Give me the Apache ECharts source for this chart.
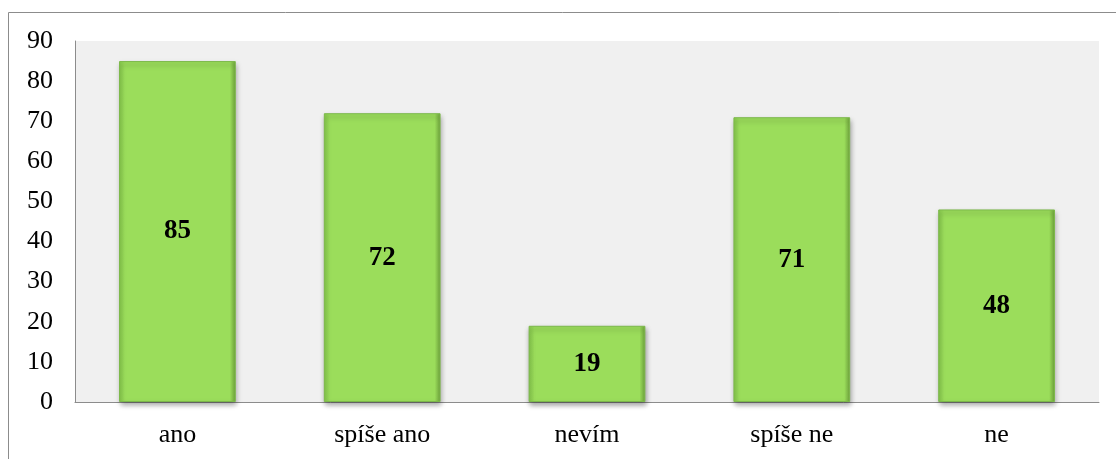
<!DOCTYPE html>
<html>
<head>
<meta charset="utf-8">
<script src="https://cdn.jsdelivr.net/npm/echarts@6/dist/echarts.min.js"></script>
<style>
  html, body { margin: 0; padding: 0; background: #fff; }
  #chart { width: 1116px; height: 459px; }
</style>
</head>
<body>
<div id="chart"></div>
<script>
// categories and answer counts
const categories = ['ano', 'spíše ano', 'nevím', 'spíše ne', 'ne'];
const counts = [85, 72, 19, 71, 48];
const yMin = 0;
const yMax = 90;
const yStep = 10;

const chart = echarts.init(document.getElementById('chart'));
window.addEventListener('resize', () => { chart.resize(); });

chart.setOption({
  animation: false,
  textStyle: { fontFamily: '"Liberation Serif", "Times New Roman", serif' },
  graphic: [
    {
      // outer frame (runs off the right and bottom edges)
      type: 'rect',
      shape: { x: 8.5, y: 12.5, width: 1130, height: 470 },
      style: { fill: 'none', stroke: '#8c8c8c', lineWidth: 1 },
      silent: true,
      z: -10
    }
  ],
  grid: {
    left: 75,
    right: 17,
    top: 41,
    bottom: 57,
    show: true,
    backgroundColor: '#f0f0f0',
    borderWidth: 0
  },
  xAxis: {
    type: 'category',
    data: categories,
    axisLine: { show: true, lineStyle: { color: '#8c8c8c', width: 1 } },
    axisTick: { show: false },
    splitLine: { show: false },
    axisLabel: {
      color: '#000',
      fontSize: 26,
      margin: 20
    }
  },
  yAxis: {
    type: 'value',
    min: yMin,
    max: yMax,
    interval: yStep,
    axisLine: { show: true, lineStyle: { color: '#8c8c8c', width: 1 } },
    axisTick: { show: false },
    splitLine: { show: false },
    axisLabel: {
      color: '#000',
      fontSize: 26,
      margin: 22
    }
  },
  series: [
    {
      type: 'bar',
      data: counts,
      barWidth: '57%',
      itemStyle: {
        color: {
          type: 'linear', x: 0, y: 0, x2: 1, y2: 0,
          colorStops: [
            { offset: 0, color: '#86c84c' },
            { offset: 0.05, color: '#9bdd5b' },
            { offset: 0.95, color: '#9bdd5b' },
            { offset: 1, color: '#6fa43c' }
          ]
        },
        borderColor: '#7cb84a',
        borderWidth: 1,
        shadowColor: 'rgba(0,0,0,0.35)',
        shadowBlur: 5,
        shadowOffsetX: 1,
        shadowOffsetY: 3
      },
      label: {
        show: true,
        position: 'inside',
        color: '#000',
        fontSize: 27,
        fontWeight: 'bold'
      }
    }
  ]
});
</script>
</body>
</html>
